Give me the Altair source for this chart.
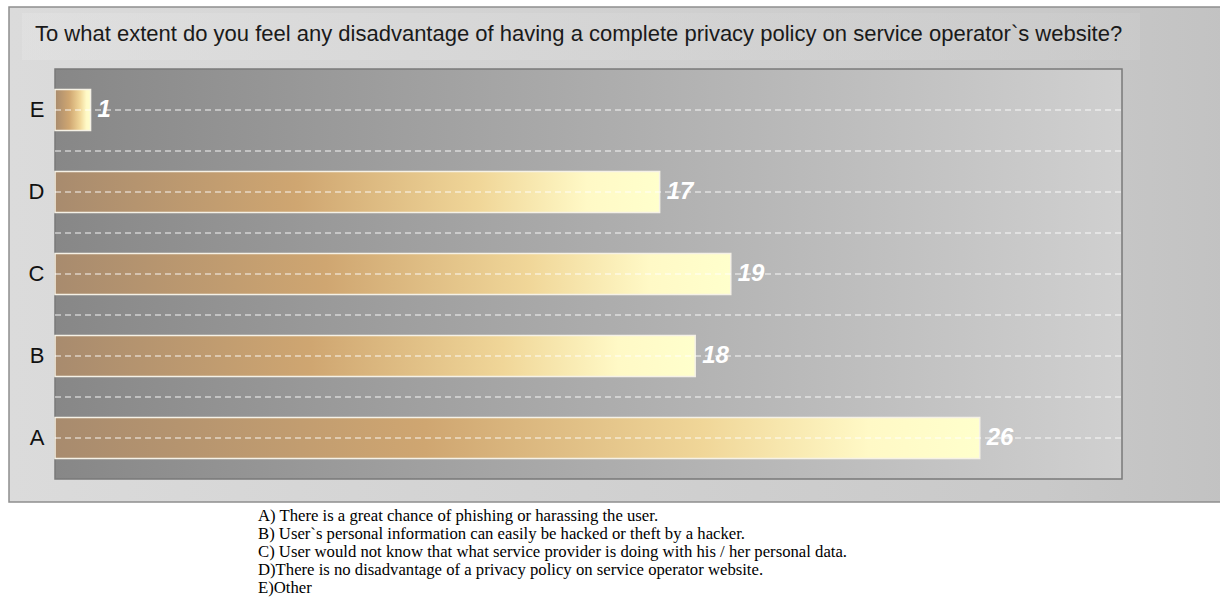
import altair as alt
import pandas as pd

categories = ["A", "B", "C", "D", "E"]
values = [26, 18, 19, 17, 1]
order = ["E", "D", "C", "B", "A"]
title_text = ("To what extent do you feel any disadvantage of having a complete "
              "privacy policy on service operator`s website?")
notes = [
    "A) There is a great chance of phishing or harassing the user.",
    "B) User`s personal information can easily be hacked or theft by a hacker.",
    "C) User would not know that what service provider is doing with his / her personal data.",
    "D)There is no disadvantage of a privacy policy on service operator website.",
    "E)Other",
]

W, H = 1067, 410
df = pd.DataFrame({"cat": categories, "val": values})
one = alt.Data(values=[{"k": 1}])


def grad(stops):
    return {"gradient": "linear", "x1": 0, "y1": 0, "x2": 1, "y2": 0,
            "stops": [{"offset": o, "color": c} for o, c in stops]}


def ydef(**kw):
    return alt.Y("cat:N", sort=order,
                 scale=alt.Scale(paddingInner=0, paddingOuter=0),
                 axis=alt.Axis(title=None, domain=False, ticks=False, grid=False,
                               labelFontSize=22, labelColor="#111111",
                               labelPadding=11, labelFont="Liberation Sans",
                               zindex=2),
                 **kw)


xdef = alt.X("val:Q", scale=alt.Scale(domain=[0, 30], nice=False), axis=None)

panel = alt.Chart(one).mark_rect(
    fill=grad([(0, "#dbdbdb"), (0.85, "#c9c9c9"), (1, "#c2c2c2")]),
    stroke="#8f8f8f", strokeWidth=1.5
).encode(x=alt.value(-46), x2=alt.value(1172), y=alt.value(-62), y2=alt.value(433))

title_band = alt.Chart(one).mark_rect(
    fill=grad([(0, "#e6e6e6"), (1, "#cfcfcf")]), opacity=0.4
).encode(x=alt.value(-33), x2=alt.value(1085), y=alt.value(-56), y2=alt.value(-9))

plot_bg = alt.Chart(one).mark_rect(
    fill=grad([(0, "#878787"), (1, "#d0d0d0")]),
    stroke="#7a7a7a", strokeWidth=1.5
).encode(x=alt.value(0), x2=alt.value(W), y=alt.value(0), y2=alt.value(H))

bars = alt.Chart(df).mark_bar(
    size=41,
    fill=grad([(0, "#a88b6e"), (0.4, "#cfa671"), (0.7, "#f0d698"),
               (0.88, "#fff9c6"), (1, "#ffffcc")]),
    stroke="#f5f1e6", strokeWidth=1.5
).encode(x=xdef, y=ydef())

center_rules = alt.Chart(df).mark_rule(
    color="white", opacity=0.6, strokeWidth=1.5, strokeDash=[6, 4]
).encode(x=alt.value(0), x2=alt.value(W), y=ydef(bandPosition=0.5))

edge_rules = alt.Chart(df).transform_filter("datum.cat != 'A'").mark_rule(
    color="white", opacity=0.6, strokeWidth=1.5, strokeDash=[6, 4]
).encode(x=alt.value(0), x2=alt.value(W), y=ydef(bandPosition=1))

labels = alt.Chart(df).mark_text(
    align="left", baseline="middle", dx=7, fontSize=24, fontWeight="bold",
    fontStyle="italic", color="white", font="Liberation Sans"
).encode(x=xdef, y=ydef(), text="val:Q")

title = alt.Chart(one).mark_text(
    text=title_text, align="left", baseline="alphabetic", fontSize=22,
    font="Liberation Sans", color="#1a1a1a"
).encode(x=alt.value(-20), y=alt.value(-28))

footnote = alt.Chart(one).mark_text(
    text=notes, align="left", baseline="alphabetic", fontSize=16.7, lineHeight=18,
    font="Liberation Serif", color="#000000"
).encode(x=alt.value(203), y=alt.value(452))

chart = alt.layer(
    panel, title_band, plot_bg, bars, center_rules, edge_rules, labels, title, footnote
).properties(
    width=W, height=H,
    autosize=alt.AutoSizeParams(type="none"),
    padding={"left": 55, "top": 69, "right": 98, "bottom": 130},
    background="white",
).configure_view(strokeWidth=0)

chart.save("out.html", embed_options={"renderer": "svg", "actions": False})
